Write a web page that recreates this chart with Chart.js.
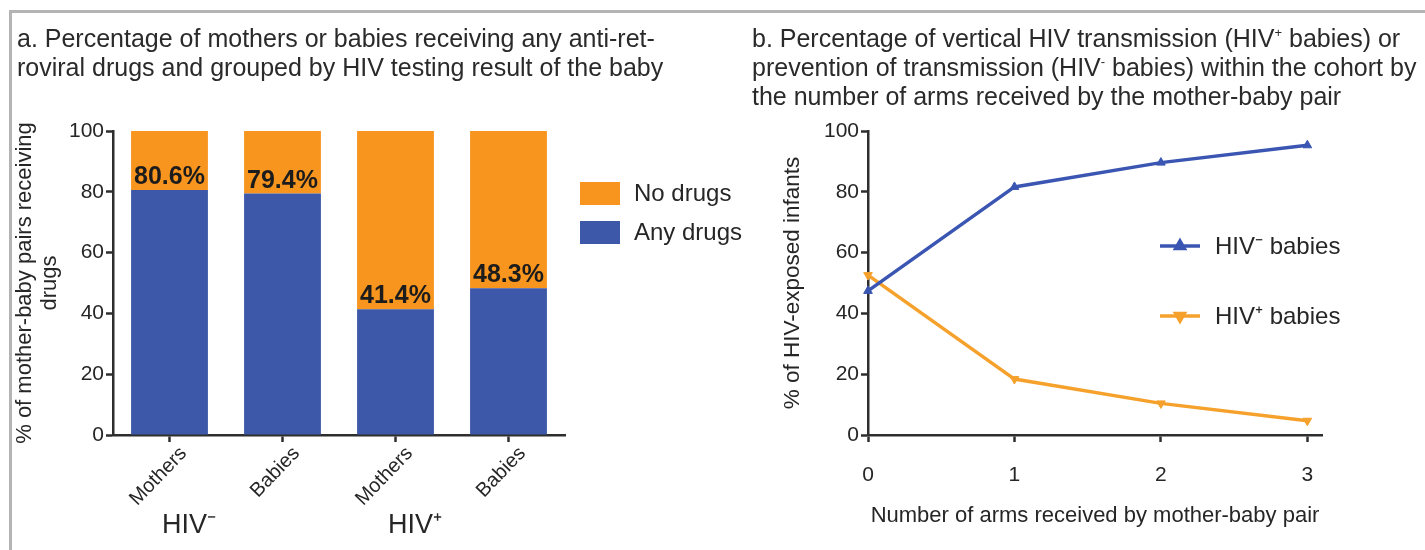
<!DOCTYPE html>
<html>
<head>
<meta charset="utf-8">
<script src="https://cdn.jsdelivr.net/npm/chart.js@4/dist/chart.umd.min.js"></script>
<style>
  html, body { margin: 0; padding: 0; background: #fff; }
  body {
    width: 1425px; height: 550px; position: relative; overflow: hidden;
    font-family: "Liberation Sans", Arial, sans-serif; color: #2a2a2a;
  }
  .panel {
    position: absolute; left: 9px; top: 10px; width: 1430px; height: 560px;
    border-top: 3px solid #b4b4b4; border-left: 3px solid #b4b4b4;
  }
  .title {
    position: absolute; font-size: 25px; line-height: 29px; white-space: nowrap; z-index: 2;
  }
  .title sup { font-size: 13px; vertical-align: 10px; line-height: 0; }
  canvas { position: absolute; top: 0; }
</style>
</head>
<body>
<div class="panel"></div>
<div class="title" style="left:17px; top:24px;">a. Percentage of mothers or babies receiving any anti-ret-<br>roviral drugs and grouped by HIV testing result of the baby</div>
<div class="title" style="left:752px; top:24px;">b. Percentage of vertical HIV transmission (HIV<sup>+</sup> babies) or<br>prevention of transmission (HIV<sup>-</sup> babies) within the cohort by<br>the number of arms received by the mother-baby pair</div>
<canvas id="bars" width="760" height="550" style="left:0px;"></canvas>
<canvas id="lines" width="685" height="550" style="left:740px;"></canvas>
<script>
// ---- data ----
const barCategories = ['Mothers', 'Babies', 'Mothers', 'Babies'];
const groupLabels = ['HIV\u207B', 'HIV\u207A'];
const anyDrugs = [80.6, 79.4, 41.4, 48.3];
const noDrugs = [19.4, 20.6, 58.6, 51.7];
const percentTicks = [0, 20, 40, 60, 80, 100];

const armCounts = [0, 1, 2, 3];
const hivNegBabies = [47.4, 81.6, 89.6, 95.3];
const hivPosBabies = [52.6, 18.4, 10.4, 4.7];

// ---- styling ----
const FONT = '"Liberation Sans", Arial, sans-serif';
const TXT = '#262626';
const AXIS = '#2e2e2e';
const BAR_BLUE = '#3d58a8';
const BAR_ORANGE = '#f7951f';
const LINE_BLUE = '#3a56b2';
const LINE_ORANGE = '#f5a12c';

Chart.defaults.font.family = FONT;
Chart.defaults.color = TXT;

function percentAxis(width, title, titleFont, titlePad) {
  return {
    min: 0, max: 100,
    afterBuildTicks(scale) { scale.ticks = percentTicks.map(v => ({ value: v })); },
    ticks: { font: { size: 21 }, color: TXT, padding: 2 },
    grid: { drawOnChartArea: false, drawTicks: true, tickLength: 7, tickWidth: 2.5, tickColor: AXIS },
    border: { display: true, color: AXIS, width: 2.5 },
    title: { display: true, text: title, color: TXT, font: titleFont, padding: titlePad },
    afterFit(scale) { scale.width = width; }
  };
}

// value labels printed above the blue segment of each stacked bar
const barValueLabels = {
  id: 'barValueLabels',
  afterDatasetsDraw(chart) {
    const { ctx } = chart;
    const meta = chart.getDatasetMeta(0);
    const y = chart.scales.y;
    ctx.save();
    ctx.font = 'bold 25px ' + FONT;
    ctx.fillStyle = '#1c1c1c';
    ctx.textAlign = 'center';
    ctx.textBaseline = 'middle';
    meta.data.forEach((bar, i) => {
      ctx.fillText(anyDrugs[i].toFixed(1) + '%', bar.x, y.getPixelForValue(anyDrugs[i]) - 13);
    });
    ctx.restore();
  }
};

// HIV status captions under each pair of bars
const groupCaptions = {
  id: 'groupCaptions',
  afterDraw(chart) {
    const { ctx } = chart;
    const x = chart.scales.x;
    ctx.save();
    ctx.font = '27px ' + FONT;
    ctx.fillStyle = TXT;
    ctx.textAlign = 'center';
    ctx.textBaseline = 'middle';
    groupLabels.forEach((g, i) => {
      const cx = (x.getPixelForValue(i * 2) + x.getPixelForValue(i * 2 + 1)) / 2 - 37;
      ctx.fillText(g, cx, 526);
    });
    ctx.restore();
  }
};

// swatch legend to the right of the bars (top segment listed first)
const barLegend = {
  id: 'barLegend',
  afterDraw(chart) {
    const { ctx } = chart;
    const items = chart.data.datasets.slice().reverse();
    ctx.save();
    ctx.font = '24px ' + FONT;
    ctx.textBaseline = 'middle';
    items.forEach((ds, i) => {
      const top = 182 + i * 39;
      ctx.fillStyle = ds.backgroundColor;
      ctx.fillRect(580, top, 40, 23);
      ctx.fillStyle = TXT;
      ctx.fillText(ds.label, 634, top + 12);
    });
    ctx.restore();
  }
};

new Chart(document.getElementById('bars'), {
  type: 'bar',
  data: {
    labels: barCategories,
    datasets: [
      { label: 'Any drugs', data: anyDrugs, backgroundColor: BAR_BLUE, barPercentage: 0.68, categoryPercentage: 1 },
      { label: 'No drugs', data: noDrugs, backgroundColor: BAR_ORANGE, barPercentage: 0.68, categoryPercentage: 1 }
    ]
  },
  options: {
    responsive: false,
    animation: false,
    layout: { padding: { top: 131, right: 195, left: 0, bottom: 0 } },
    plugins: { legend: { display: false }, tooltip: { enabled: false } },
    scales: {
      x: {
        stacked: true,
        grid: { offset: false, drawOnChartArea: false, drawTicks: true, tickLength: 7, tickWidth: 2.5, tickColor: AXIS },
        border: { display: true, color: AXIS, width: 2.5 },
        ticks: { minRotation: 46, maxRotation: 46, font: { size: 20 }, color: TXT, padding: 0, labelOffset: 14 },
        afterFit(scale) { scale.height = 115; }
      },
      y: Object.assign(
        percentAxis(113, ['% of mother-baby pairs receiving', 'drugs'], { size: 22, lineHeight: 1.14 }, { top: 12, bottom: 0 }),
        { stacked: true }
      )
    }
  },
  plugins: [barValueLabels, groupCaptions, barLegend]
});

// line legend inside the plot area on the right
const lineLegend = {
  id: 'lineLegend',
  afterDraw(chart) {
    const { ctx } = chart;
    ctx.save();
    ctx.font = '24px ' + FONT;
    ctx.textBaseline = 'middle';
    chart.data.datasets.forEach((ds, i) => {
      const y = 246 + i * 70;
      ctx.strokeStyle = ds.borderColor;
      ctx.lineWidth = ds.borderWidth;
      ctx.beginPath();
      ctx.moveTo(420, y);
      ctx.lineTo(460, y);
      ctx.stroke();
      Chart.helpers.drawPoint(ctx, {
        pointStyle: ds.pointStyle, radius: ds.pointRadius, rotation: ds.pointRotation || 0, borderWidth: 1
      }, 440, y);
      ctx.fillStyle = ds.borderColor;
      ctx.fill();
      ctx.fillStyle = TXT;
      ctx.fillText(ds.label, 475, y + 1);
    });
    ctx.restore();
  }
};

new Chart(document.getElementById('lines'), {
  type: 'line',
  data: {
    datasets: [
      {
        label: 'HIV\u207B babies',
        data: armCounts.map((a, i) => ({ x: a, y: hivNegBabies[i] })),
        borderColor: LINE_BLUE, backgroundColor: LINE_BLUE, borderWidth: 3.5,
        pointStyle: 'triangle', pointRadius: 5, pointBorderWidth: 1, clip: false
      },
      {
        label: 'HIV\u207A babies',
        data: armCounts.map((a, i) => ({ x: a, y: hivPosBabies[i] })),
        borderColor: LINE_ORANGE, backgroundColor: LINE_ORANGE, borderWidth: 3.5,
        pointStyle: 'triangle', pointRotation: 180, pointRadius: 5, pointBorderWidth: 1, clip: false
      }
    ]
  },
  options: {
    responsive: false,
    animation: false,
    layout: { padding: { top: 131, right: 103, left: 0, bottom: 0 } },
    plugins: { legend: { display: false }, tooltip: { enabled: false } },
    scales: {
      x: {
        type: 'linear', min: 0, max: 3.1,
        afterBuildTicks(scale) { scale.ticks = armCounts.map(v => ({ value: v })); },
        ticks: { font: { size: 21 }, color: TXT, padding: 21 },
        grid: { drawOnChartArea: false, drawTicks: true, tickLength: 7, tickWidth: 2.5, tickColor: AXIS },
        border: { display: true, color: AXIS, width: 2.5 },
        title: {
          display: true, text: 'Number of arms received by mother-baby pair', color: TXT,
          font: { size: 22 }, padding: { top: 0, bottom: 21 }
        },
        afterFit(scale) { scale.height = 115; }
      },
      y: percentAxis(128, '% of HIV-exposed infants', { size: 22.5 }, { top: 39, bottom: 0 })
    }
  },
  plugins: [lineLegend]
});
</script>
</body>
</html>
